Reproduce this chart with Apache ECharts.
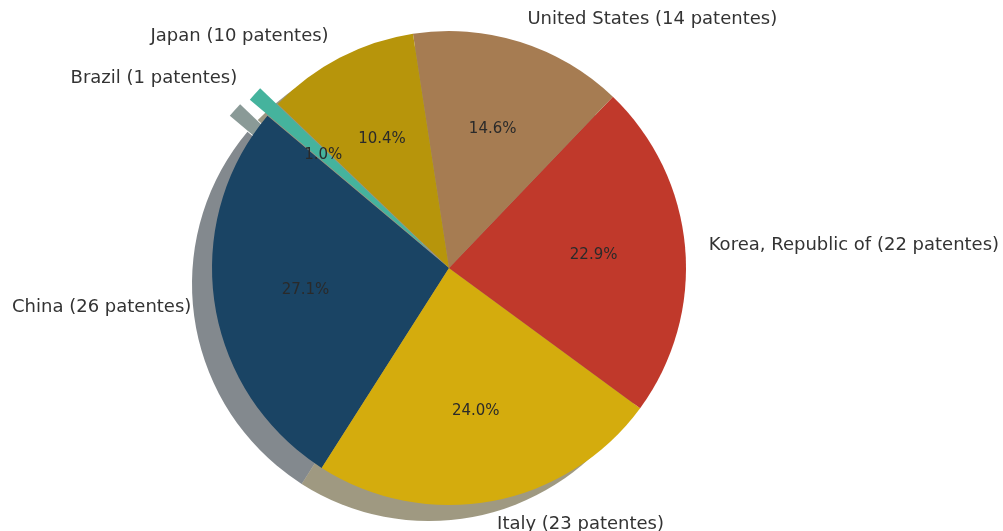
<!DOCTYPE html>
<html>
<head>
<meta charset="utf-8">
<script src="https://cdn.jsdelivr.net/npm/echarts@6/dist/echarts.min.js"></script>
<style>
  html, body { margin: 0; padding: 0; background: #ffffff; }
  #chart { width: 1003px; height: 531px; }
</style>
</head>
<body>
<div id="chart"></div>
<script>
// Patent counts per country
const countries = ['China', 'Italy', 'Korea, Republic of', 'United States', 'Japan', 'Brazil'];
const patents = [26, 23, 22, 14, 10, 1];
const sliceColors = ['#1a4464', '#d4ac0d', '#c0392b', '#a67c52', '#b7950b', '#45b39d'];
const explodedCountry = 'Brazil';

// Geometry of the pie
const CX = 449, CY = 268, R = 237;
const EXPLODE = 0.1 * R;
const SHADOW_DX = -20, SHADOW_DY = 16;
const FONT = 'DejaVu Sans';

const total = patents.reduce((a, b) => a + b, 0);

// Shadow tint: darkened slice colour at half opacity
function shadowOf(hex) {
  const n = parseInt(hex.slice(1), 16);
  const r = Math.round(((n >> 16) & 255) * 0.3);
  const g = Math.round(((n >> 8) & 255) * 0.3);
  const b = Math.round((n & 255) * 0.3);
  return `rgba(${r},${g},${b},0.5)`;
}

function buildData(colorFn) {
  return countries.map((c, i) => ({
    name: c,
    value: patents[i],
    selected: c === explodedCountry,
    itemStyle: { color: colorFn(i) }
  }));
}

const common = {
  type: 'pie',
  startAngle: 140,
  clockwise: false,
  selectedMode: 'multiple',
  selectedOffset: EXPLODE,
  avoidLabelOverlap: false,
  silent: true,
  emphasis: { disabled: true },
  select: { itemStyle: { borderWidth: 0 } }
};

const chart = echarts.init(document.getElementById('chart'), null, { renderer: 'canvas' });
chart.setOption({
  animation: false,
  backgroundColor: '#ffffff',
  series: [
    // drop shadow
    Object.assign({}, common, {
      z: 1,
      center: [CX + SHADOW_DX, CY + SHADOW_DY],
      radius: [0, R],
      label: { show: false },
      labelLine: { show: false },
      data: buildData(i => shadowOf(sliceColors[i]))
    }),
    // slices with country labels outside
    Object.assign({}, common, {
      z: 2,
      center: [CX, CY],
      radius: [0, R],
      label: {
        show: true,
        position: 'outside',
        distanceToLabelLine: 0,
        fontFamily: FONT,
        fontSize: 18,
        color: '#333333',
        formatter: p => `${p.name} (${p.value} patentes)`
      },
      labelLine: { show: false, length: EXPLODE, length2: 0 },
      data: buildData(i => sliceColors[i])
    }),
    // percentage labels placed at 0.6 R
    Object.assign({}, common, {
      z: 3,
      center: [CX, CY],
      radius: [0.2 * R, R],
      label: {
        show: true,
        position: 'inside',
        fontFamily: FONT,
        fontSize: 15,
        color: '#2a2a2a',
        formatter: p => (p.value / total * 100).toFixed(1) + '%'
      },
      labelLine: { show: false },
      data: buildData(() => 'rgba(0,0,0,0)')
    })
  ]
});
</script>
</body>
</html>
